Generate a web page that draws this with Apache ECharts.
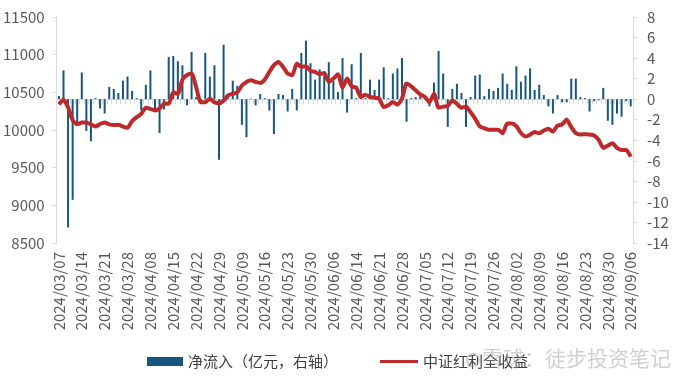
<!DOCTYPE html>
<html><head><meta charset="utf-8">
<script src="https://cdn.jsdelivr.net/npm/echarts@6/dist/echarts.min.js"></script>
<style>html,body{margin:0;padding:0;background:#fff}#c{width:687px;height:379px}</style>
</head><body><div id="c"></div>
<script>
const dates = [
'2024/03/07','2024/03/08','2024/03/11','2024/03/12','2024/03/13','2024/03/14','2024/03/15','2024/03/18','2024/03/19','2024/03/20',
'2024/03/21','2024/03/22','2024/03/25','2024/03/26','2024/03/27','2024/03/28','2024/03/29','2024/04/01','2024/04/02','2024/04/03',
'2024/04/08','2024/04/09','2024/04/10','2024/04/11','2024/04/12','2024/04/15','2024/04/16','2024/04/17','2024/04/18','2024/04/19',
'2024/04/22','2024/04/23','2024/04/24','2024/04/25','2024/04/26','2024/04/29','2024/04/30','2024/05/06','2024/05/07','2024/05/08',
'2024/05/09','2024/05/10','2024/05/13','2024/05/14','2024/05/15','2024/05/16','2024/05/17','2024/05/20','2024/05/21','2024/05/22',
'2024/05/23','2024/05/24','2024/05/27','2024/05/28','2024/05/29','2024/05/30','2024/05/31','2024/06/03','2024/06/04','2024/06/05',
'2024/06/06','2024/06/07','2024/06/11','2024/06/12','2024/06/13','2024/06/14','2024/06/17','2024/06/18','2024/06/19','2024/06/20',
'2024/06/21','2024/06/24','2024/06/25','2024/06/26','2024/06/27','2024/06/28','2024/07/01','2024/07/02','2024/07/03','2024/07/04',
'2024/07/05','2024/07/08','2024/07/09','2024/07/10','2024/07/11','2024/07/12','2024/07/15','2024/07/16','2024/07/17','2024/07/18',
'2024/07/19','2024/07/22','2024/07/23','2024/07/24','2024/07/25','2024/07/26','2024/07/29','2024/07/30','2024/07/31','2024/08/01',
'2024/08/02','2024/08/05','2024/08/06','2024/08/07','2024/08/08','2024/08/09','2024/08/12','2024/08/13','2024/08/14','2024/08/15',
'2024/08/16','2024/08/19','2024/08/20','2024/08/21','2024/08/22','2024/08/23','2024/08/26','2024/08/27','2024/08/28','2024/08/29',
'2024/08/30','2024/09/02','2024/09/03','2024/09/04','2024/09/05','2024/09/06'];

// 净流入（亿元，右轴）
const netInflow = [
0.3,2.8,-12.5,-9.8,-2.6,2.6,-3.1,-4.1,0.1,-0.9,
-1.4,1.2,1.0,0.6,1.8,2.2,0.8,0.1,-1.1,1.4,
2.8,-1.1,-3.3,-1.0,4.1,4.2,3.7,3.3,-0.6,4.6,
0.2,-0.1,4.5,2.2,3.3,-5.9,5.3,0.1,1.8,1.3,
-2.5,-3.7,0.05,-0.6,0.5,0.1,-1.1,-3.4,0.5,0.4,
-1.2,1.0,-1.1,4.5,5.7,3.5,1.9,2.9,2.3,3.6,
1.8,0.7,4.0,-1.3,3.4,0.1,4.5,0.1,1.9,0.9,
1.9,3.1,0.1,2.5,3.0,4.0,-2.2,0.1,0.2,0.3,
0.2,-0.7,1.6,4.7,2.5,-2.7,1.0,1.5,0.6,-2.7,
0.2,2.3,2.4,0.3,1.0,0.8,1.1,2.5,1.5,0.9,
3.2,1.7,2.3,3.0,0.9,1.4,0.4,-0.7,-1.4,0.4,
-0.3,-0.3,2.0,2.0,0.2,0.1,-1.2,-0.2,-0.1,1.1,
-2.1,-2.5,-1.4,-1.7,-0.2,-0.7];

// 中证红利全收益
const indexValue = [
10340,10400,10300,10130,10075,10100,10100,10075,10045,10080,
10100,10075,10065,10070,10045,10030,10120,10170,10215,10295,
10280,10260,10285,10350,10350,10500,10480,10670,10730,10750,
10570,10370,10370,10415,10370,10355,10390,10460,10480,10500,
10590,10638,10660,10638,10624,10669,10771,10860,10904,10838,
10749,10727,10882,10838,10847,10784,10771,10740,10758,10638,
10682,10740,10562,10682,10580,10562,10438,10469,10438,10429,
10416,10304,10327,10371,10336,10416,10616,10580,10527,10473,
10438,10371,10482,10296,10310,10320,10393,10349,10296,10313,
10235,10149,10047,10024,10002,10002,10002,9958,10085,10085,
10050,9960,9915,9938,9975,9958,9993,10016,9980,10060,
10073,10140,10038,9958,9940,9945,9940,9927,9869,9762,
9793,9824,9762,9736,9736,9647];

const seriesNames = ['净流入（亿元，右轴）', '中证红利全收益'];
const watermark = '雪球：徒步投资笔记';

const FONT = '"Noto Sans CJK SC", "Noto Sans", sans-serif';
const labelColor = '#595959';
const axisGray = '#d9d9d9';

const chart = echarts.init(document.getElementById('c'), null, {renderer: 'canvas'});
chart.setOption({
  animation: false,
  textStyle: {fontFamily: FONT},
  grid: {left: 55, right: 54, top: 17, bottom: 136, containLabel: false},
  legend: [
    {data: [seriesNames[0]], left: 142, top: 349, icon: 'rect', itemWidth: 36, itemHeight: 9, itemGap: 5,
     textStyle: {fontSize: 15, color: '#404040', fontFamily: FONT}},
    {data: [seriesNames[1]], left: 375, top: 349, icon: 'rect', itemWidth: 38, itemHeight: 3, itemGap: 5,
     textStyle: {fontSize: 15, color: '#404040', fontFamily: FONT}}
  ],
  xAxis: {
    type: 'category', data: dates, boundaryGap: true,
    axisLine: {lineStyle: {color: axisGray}},
    axisTick: {show: true, interval: 0, length: 5, lineStyle: {color: axisGray}},
    axisLabel: {interval: 4, rotate: 90, fontSize: 15, color: labelColor, margin: 9, fontFamily: FONT},
    splitLine: {show: false}
  },
  yAxis: [
    {type: 'value', min: 8500, max: 11500, interval: 500,
     axisLine: {show: true, lineStyle: {color: axisGray}},
     axisTick: {show: true, length: 4, lineStyle: {color: axisGray}},
     axisLabel: {fontSize: 15, color: labelColor, margin: 12, fontFamily: FONT, formatter: v => String(v)},
     splitLine: {show: false}},
    {type: 'value', min: -14, max: 8, interval: 2,
     axisLine: {show: true, lineStyle: {color: axisGray}},
     axisTick: {show: true, length: 4, lineStyle: {color: axisGray}},
     axisLabel: {fontSize: 15, color: labelColor, margin: 14, fontFamily: FONT, formatter: v => String(v)},
     splitLine: {show: false}}
  ],
  series: [
    {name: seriesNames[0], type: 'bar', yAxisIndex: 1, data: netInflow, barWidth: 2,
     itemStyle: {color: '#17567F'}, z: 2},
    {name: seriesNames[1], type: 'line', yAxisIndex: 0, data: indexValue, smooth: 0.2,
     showSymbol: false, symbol: 'none',
     lineStyle: {color: '#BE2A2A', width: 4}, itemStyle: {color: '#BE2A2A'}, z: 3}
  ],
  graphic: [
    {type: 'circle', shape: {cx: 473, cy: 360, r: 6}, style: {fill: 'none', stroke: 'rgba(150,150,150,0.45)', lineWidth: 2}, z: 10},
    {type: 'text', left: 482, top: 348, style: {text: watermark, fontSize: 21, fill: 'rgba(150,150,150,0.45)', fontFamily: FONT}, z: 10}
  ]
});
</script></body></html>
